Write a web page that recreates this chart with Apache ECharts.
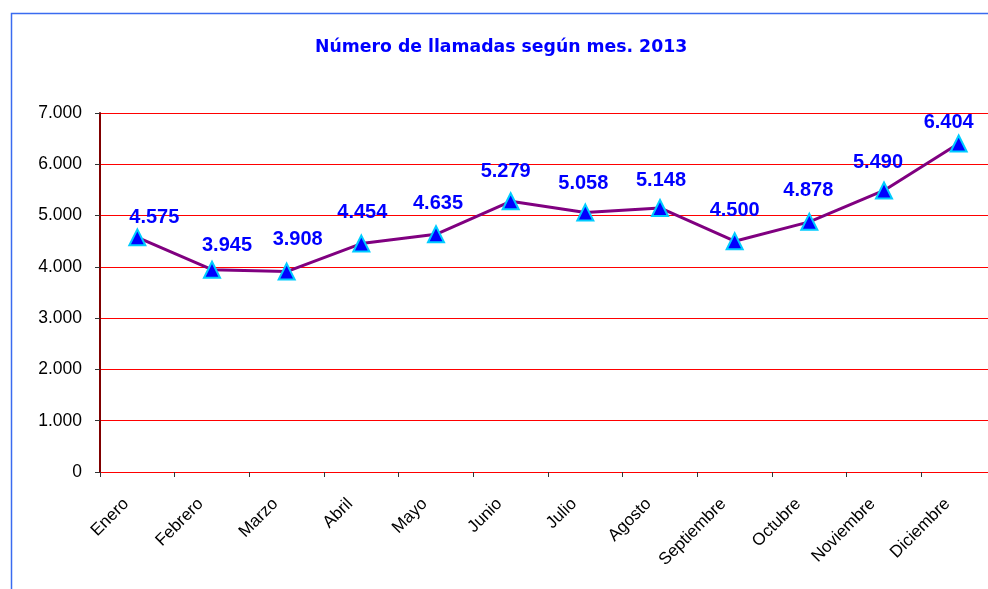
<!DOCTYPE html>
<html>
<head>
<meta charset="utf-8">
<script src="https://cdn.jsdelivr.net/npm/echarts@6/dist/echarts.min.js"></script>
<style>html,body{margin:0;padding:0;background:#fff;overflow:hidden;width:988px;height:589px}#c{width:1000px;height:589px}</style>
</head>
<body>
<div id="c"></div>
<script>
const titleText = 'Número de llamadas según mes. 2013';
const months = ['Enero','Febrero','Marzo','Abril','Mayo','Junio','Julio','Agosto','Septiembre','Octubre','Noviembre','Diciembre'];
const calls = [4575, 3945, 3908, 4454, 4635, 5279, 5058, 5148, 4500, 4878, 5490, 6404];
const yMin = 0, yMax = 7000, yStep = 1000;

// label nudges (style only), as placed in the reference
const labelDx = [17, 15, 11, 1, 2, -5, -2, 1, 0, -1, -6, -10];
const labelDy = [-20, -24, -32, -31, -31, -30, -29, -27, -31, -31, -28, -21];

function fmt(v){ return String(v).replace(/\B(?=(\d{3})+(?!\d))/g, '.'); }

const seriesData = calls.map((v, i) => ({
  value: v,
  label: {offset: [labelDx[i], labelDy[i]]}
}));

const chart = echarts.init(document.getElementById('c'), null, {renderer:'canvas'});
chart.setOption({
  animation: false,
  backgroundColor: '#ffffff',
  graphic: [{
    type: 'rect', left: 9, top: 11, shape: {width: 1010, height: 600},
    style: {fill: 'none', stroke: '#3a6bf0', lineWidth: 1.5}, silent: true
  }],
  title: {
    text: titleText, left: 310, top: 34,
    textStyle: {fontFamily: 'DejaVu Sans', fontWeight: 'bold', fontSize: 17.3, color: '#0000ff'}
  },
  grid: {left: 100, top: 113, right: 4, bottom: 117, containLabel: false},
  xAxis: {
    type: 'category', data: months, boundaryGap: true,
    axisLine: {show: true, lineStyle: {color: '#ff0000', width: 1}},
    axisTick: {show: true, length: 5, inside: false, lineStyle: {color: '#333333'}},
    axisLabel: {rotate: 45, margin: 18, padding: [0, 16, 0, 0], fontFamily: 'Liberation Sans', fontSize: 17, color: '#000000', interval: 0},
    splitLine: {show: false}
  },
  yAxis: {
    type: 'value', min: yMin, max: yMax, interval: yStep,
    axisLine: {show: true, lineStyle: {color: '#800000', width: 2}},
    axisTick: {show: true, length: 5, lineStyle: {color: '#333333'}},
    axisLabel: {margin: 18, fontFamily: 'Liberation Sans', fontSize: 17.5, color: '#000000', formatter: fmt},
    splitLine: {show: true, lineStyle: {color: '#ff0000', width: 1}}
  },
  series: [{
    type: 'line', data: seriesData,
    lineStyle: {color: '#800080', width: 3},
    symbol: 'triangle', symbolSize: 16,
    itemStyle: {color: '#0000ff', borderColor: '#00ccff', borderWidth: 2},
    label: {
      show: true, position: 'inside',
      formatter: p => fmt(p.value),
      fontFamily: 'Liberation Sans', fontWeight: 'bold', fontSize: 20, color: '#0000ff'
    },
    z: 3
  }]
});
</script>
</body>
</html>
